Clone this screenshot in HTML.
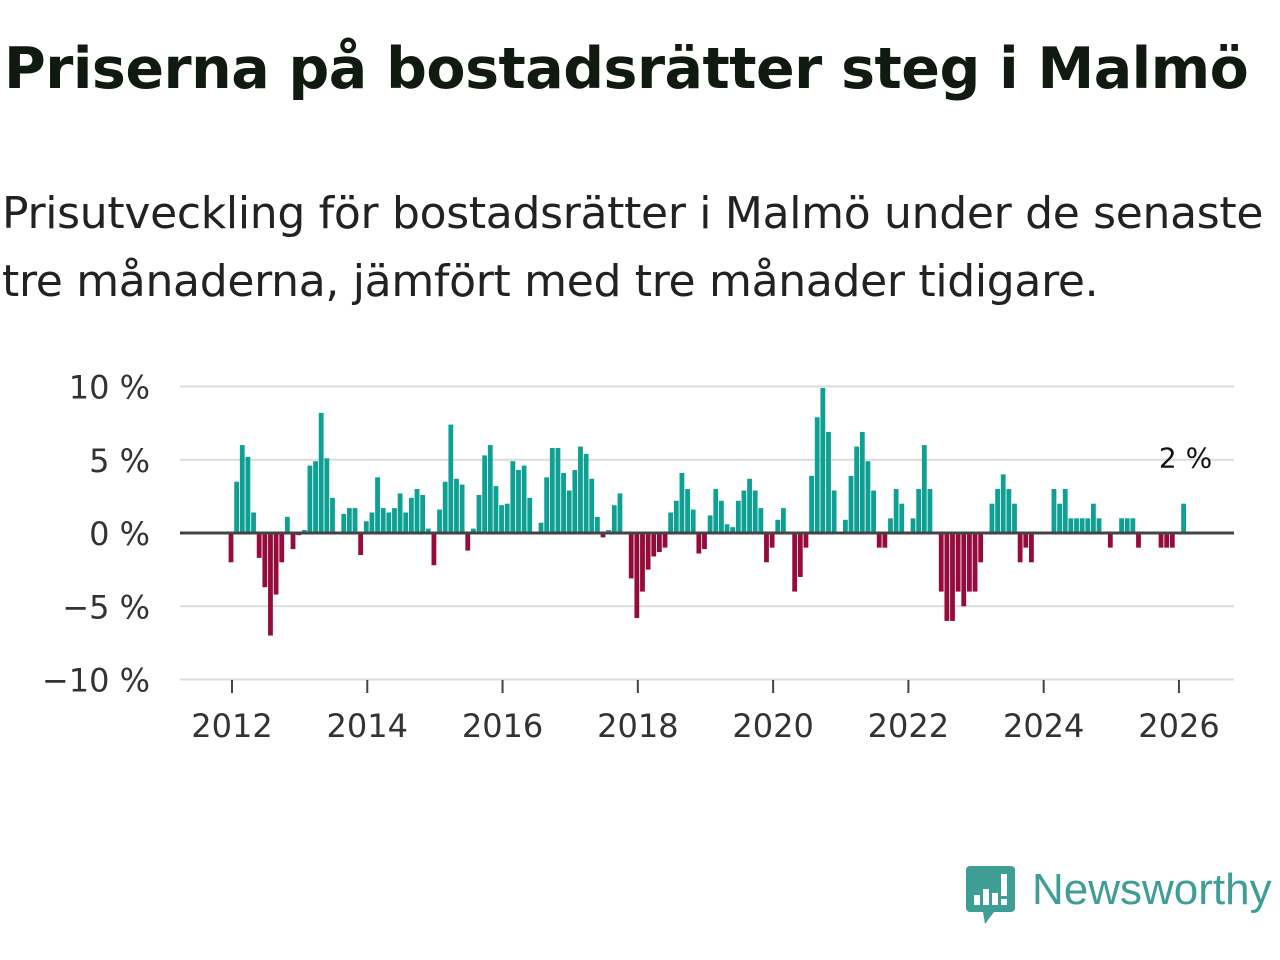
<!DOCTYPE html>
<html><head><meta charset="utf-8">
<style>
body{margin:0;width:1280px;height:960px;background:#fff;overflow:hidden;font-family:"DejaVu Sans","Liberation Sans",sans-serif;color:#111;}
#title{position:absolute;left:4px;top:36px;font-size:57px;font-weight:bold;letter-spacing:-0.5px;white-space:nowrap;color:#111a10;}
#sub{position:absolute;left:2px;top:180px;font-size:44px;line-height:68px;color:#222;white-space:nowrap;letter-spacing:-0.3px;}
svg{position:absolute;left:0;top:0;}
</style></head><body>
<div id="title">Priserna på bostadsrätter steg i Malmö</div>
<div id="sub">Prisutveckling för bostadsrätter i Malmö under de senaste<br>tre månaderna, jämfört med tre månader tidigare.</div>
<svg id="chart" width="1280" height="960"></svg>
<script>
const values=[-2,3.5,6.0,5.2,1.4,-1.7,-3.7,-7.0,-4.2,-2.0,1.1,-1.1,-0.15,0.2,4.6,4.9,8.2,5.1,2.4,0,1.3,1.7,1.7,-1.5,0.8,1.4,3.8,1.7,1.4,1.7,2.7,1.4,2.4,3.0,2.6,0.3,-2.2,1.6,3.5,7.4,3.7,3.3,-1.2,0.3,2.6,5.3,6.0,3.2,1.9,2.0,4.9,4.3,4.6,2.4,0,0.7,3.8,5.8,5.8,
4.1,2.9,4.3,5.9,5.4,3.7,1.1,-0.3,0.2,1.9,2.7,0,-3.1,-5.8,-4.0,-2.5,-1.6,-1.3,-1.0,1.4,2.2,4.1,3.0,1.6,-1.4,-1.1,1.2,3.0,2.2,0.6,0.4,2.2,2.9,3.7,2.9,1.7,-2.0,-1.0,0.9,1.7,0,-4.0,-3.0,-1.0,3.9,7.9,9.9,6.9,2.9,0,0.9,3.9,5.9,6.9,4.9,2.9,-1.0,-1.0,
1,3,2,0,1,3,6,3,0,-4,-6,-6,-4,-5,-4,-4,-2,0,2,3,4,3,2,-2,-1,-2,0,0,0,3,2,3,1,1,1,1,2,1,0,-1,0,1,1,1,-1,0,0,0,-1,-1,-1,0,2];
const startYear=2012;
const yTicks=[10,5,0,-5,-10];
const yTickLabels=["10 %","5 %","0 %","\u22125 %","\u221210 %"];
const xTicks=[2012,2014,2016,2018,2020,2022,2024,2026];
const lastLabel="2 %";

const NS="http://www.w3.org/2000/svg";
const svg=document.getElementById('chart');
const y=v=>533-v*14.65;
const x=t=>232+(t-2012)*67.64;
const xi=i=>x(startYear+i/12)-1;
function mk(tag,attrs){const e=document.createElementNS(NS,tag);for(const k in attrs)e.setAttribute(k,attrs[k]);svg.appendChild(e);return e;}
yTicks.forEach((v,k)=>{
 if(v!==0){const g=mk('line',{x1:180,x2:1234,y1:y(v),y2:y(v),stroke:'#dcdcdc','stroke-width':2});
 
 }
 const t=mk('text',{x:150,y:y(v)+12,'text-anchor':'end','font-size':32,fill:'#333','font-family':'DejaVu Sans, sans-serif'});
 t.textContent=yTickLabels[k];
 
 
});
values.forEach((v,i)=>{
 const cx=xi(i);
 const r=mk('rect',{x:cx-2.4,width:4.8,y:v>=0?y(v):y(0),height:Math.abs(y(v)-y(0)),fill:v>=0?'#0fa094':'#960b3c'});
 
 
});
const z=mk('line',{x1:180,x2:1234,y1:y(0),y2:y(0),stroke:'#444','stroke-width':3});


xTicks.forEach(yr=>{
 const tk=mk('line',{x1:x(yr),x2:x(yr),y1:680,y2:693,stroke:'#444','stroke-width':2});
 
 
 const t=mk('text',{x:x(yr),y:737,'text-anchor':'middle','font-size':32,fill:'#333','font-family':'DejaVu Sans, sans-serif'});
 t.textContent=yr;
 
 
});
const li=values.length-1;
const lb=mk('text',{x:xi(li)+2,y:y(values[li])-36,'text-anchor':'middle','font-size':28,fill:'#111','font-family':'DejaVu Sans, sans-serif'});
lb.textContent=lastLabel;


</script>
<svg width="1280" height="960" style="pointer-events:none">
 <path d="M970 866 H1011 a4 4 0 0 1 4 4 V908 a4 4 0 0 1 -4 4 H994 L985 924 L983 912 H970 a4 4 0 0 1 -4 -4 V870 a4 4 0 0 1 4 -4Z" fill="#3e9e96"/>
 <rect x="974" y="895" width="6" height="10" fill="#fff"/>
 <rect x="983" y="889" width="6" height="16" fill="#fff"/>
 <rect x="992" y="893" width="6" height="12" fill="#fff"/>
 <rect x="1001" y="874" width="6" height="22" fill="#fff"/>
 <rect x="1001" y="899" width="6" height="6" fill="#fff"/>
 <text x="1032" y="904" font-size="44" fill="#3e9e96" font-family="Liberation Sans, sans-serif">Newsworthy</text>
</svg>
</body></html>
